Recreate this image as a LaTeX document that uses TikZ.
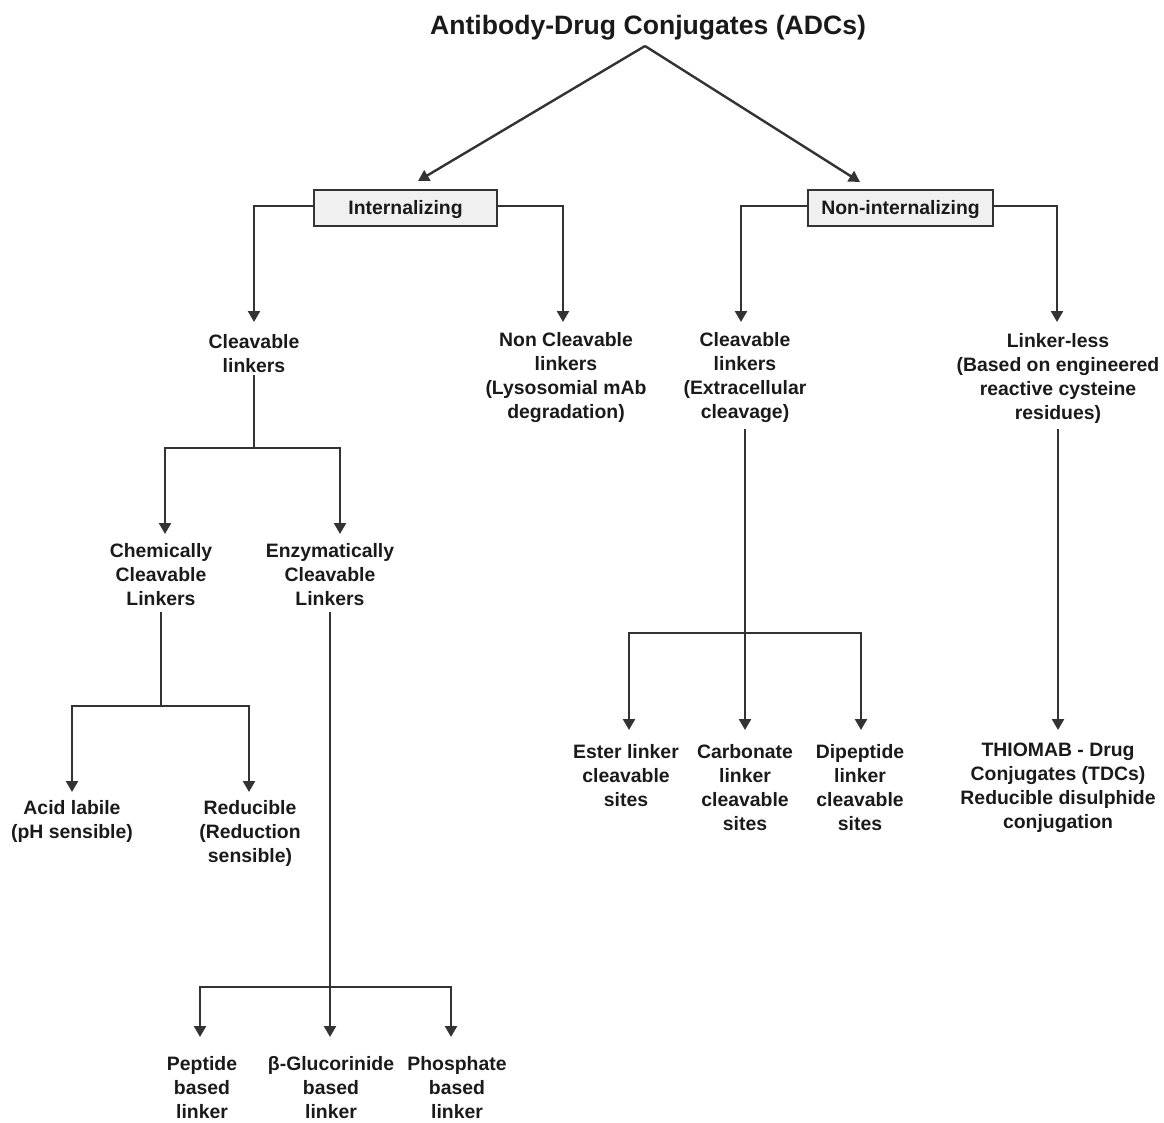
\documentclass[tikz,border=0pt]{standalone}
\usepackage{fontspec}
\setmainfont{Liberation Sans}
\usetikzlibrary{arrows.meta}
\definecolor{ln}{HTML}{333333}
\definecolor{tx}{HTML}{1A1A1A}
\definecolor{bx}{HTML}{F0F0F0}
\begin{document}
\begin{tikzpicture}[x=1pt,y=-1pt,
  lbl/.style={align=center,inner sep=0pt,text=tx,font=\bfseries\fontsize{19.4}{24}\selectfont},
  catbox/.style={draw=ln,line width=2.4pt,fill=bx,minimum height=36pt,inner sep=0pt,text height=14pt,text depth=1pt,text=tx,font=\bfseries\fontsize{19.4}{24}\selectfont},
  conn/.style={draw=ln,line width=2.4pt},
  arr/.style={conn,-{Triangle[length=11pt,width=12pt]}}]
\useasboundingbox (0,0) rectangle (1164,1123);
% title
\node[lbl,font=\bfseries\fontsize{26.6}{30}\selectfont] (title) at (648,28) {Antibody-Drug Conjugates (ADCs)};
% category boxes
\node[catbox,minimum width=183pt] (int) at (405.5,208) {Internalizing};
\node[catbox,minimum width=185pt] (nonint) at (900.5,208) {Non-internalizing};
% level 2
\node[lbl] (cl1) at (254,354) {Cleavable\\linkers};
\node[lbl] (ncl) at (566,378) {Non Cleavable\\linkers\\(Lysosomial mAb\\degradation)};
\node[lbl] (cl2) at (745,378) {Cleavable\\linkers\\(Extracellular\\cleavage)};
\node[lbl] (ll) at (1058,378) {Linker-less\\(Based on engineered\\reactive cysteine\\residues)};
% level 3
\node[lbl] (chem) at (161,575) {Chemically\\Cleavable\\Linkers};
\node[lbl] (enz) at (330,575) {Enzymatically\\Cleavable\\Linkers};
\node[lbl] (ester) at (626,776) {Ester linker\\cleavable\\sites};
\node[lbl] (carb) at (745,788) {Carbonate\\linker\\cleavable\\sites};
\node[lbl] (dip) at (860,788) {Dipeptide\\linker\\cleavable\\sites};
\node[lbl] (thio) at (1058,788) {THIOMAB - Drug\\Conjugates (TDCs)\\Reducible disulphide\\conjugation};
% level 4
\node[lbl] (acid) at (72,821) {Acid labile\\(pH sensible)};
\node[lbl] (red) at (250,833) {Reducible\\(Reduction\\sensible)};
% level 5
\node[lbl] (pep) at (202,1088) {Peptide\\based\\linker};
\node[lbl] (glu) at (331,1088) {β-Glucorinide\\based\\linker};
\node[lbl] (pho) at (457,1088) {Phosphate\\based\\linker};
% coordinates
\coordinate (apex) at (645,46);
\coordinate (tL) at (418,181);
\coordinate (tR) at (860,182);
\coordinate (t-cl1) at (254,322);
\coordinate (t-ncl) at (563,322);
\coordinate (t-cl2) at (741,322);
\coordinate (t-ll) at (1057,322);
\coordinate (j1) at (254,448);
\coordinate (t-chem) at (165,534);
\coordinate (t-enz) at (340,534);
\coordinate (j2) at (161,706);
\coordinate (t-acid) at (72,792);
\coordinate (t-red) at (249,792);
\coordinate (j3) at (330,987);
\coordinate (t-pep) at (200,1037);
\coordinate (t-glu) at (330,1037);
\coordinate (t-pho) at (451,1037);
\coordinate (j4) at (745,633);
\coordinate (t-ester) at (629,730);
\coordinate (t-carb) at (745,730);
\coordinate (t-dip) at (861,730);
\coordinate (t-thio) at (1058,730);
% connectors
\draw[arr] (apex) -- (tL);
\draw[arr] (apex) -- (tR);
\draw[arr] ([yshift=2pt]int.west) -| (t-cl1);
\draw[arr] ([yshift=2pt]int.east) -| (t-ncl);
\draw[arr] ([yshift=2pt]nonint.west) -| (t-cl2);
\draw[arr] ([yshift=2pt]nonint.east) -| (t-ll);
\draw[conn] ([yshift=-2pt]cl1.south) -- (j1);
\draw[arr] (j1) -| (t-chem);
\draw[arr] (j1) -| (t-enz);
\draw[conn] ([yshift=-6pt]chem.south) -- (j2);
\draw[arr] (j2) -| (t-acid);
\draw[arr] (j2) -| (t-red);
\draw[arr] ([yshift=-6pt]enz.south) -- (t-glu);
\draw[arr] (j3) -| (t-pep);
\draw[arr] (j3) -| (t-pho);
\draw[arr] ([yshift=-6pt]cl2.south) -- (t-carb);
\draw[arr] (j4) -| (t-ester);
\draw[arr] (j4) -| (t-dip);
\draw[arr] ([yshift=-6pt]ll.south) -- (t-thio);
\end{tikzpicture}
\end{document}
